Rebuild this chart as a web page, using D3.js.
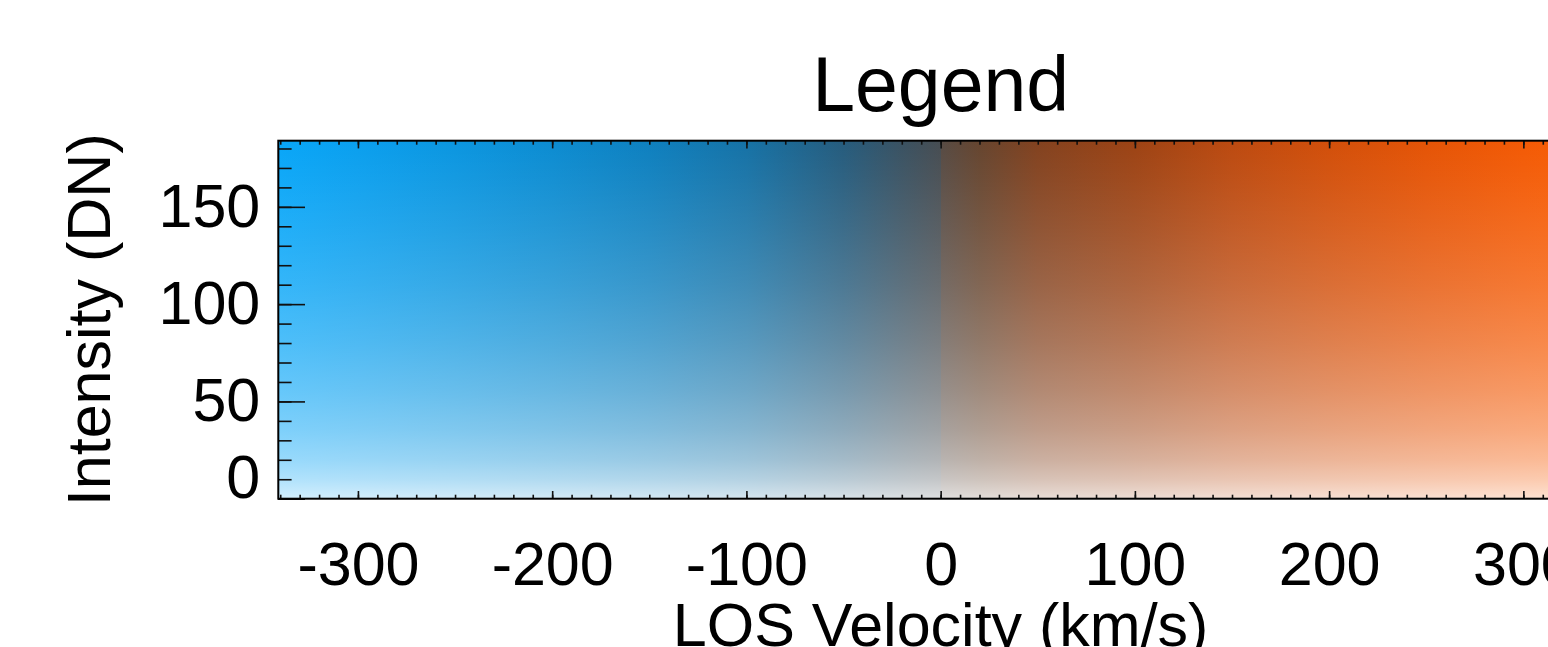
<!DOCTYPE html>
<html>
<head>
<meta charset="utf-8">
<script src="https://cdn.jsdelivr.net/npm/d3@7"></script>
<style>
  html, body { margin: 0; padding: 0; background: #fff; overflow: hidden; }
  svg { display: block; }
  text { font-family: "Liberation Sans", Arial, Helvetica, sans-serif; fill: #000; }
</style>
</head>
<body>
<script>
let velDomain = [-341, 341];
let intDomain = [0, 184];

let xMajor = [-300, -200, -100, 0, 100, 200, 300];
let xMinor = d3.range(-340, 341, 10);
let yMajor = [0, 50, 100, 150];
let yMinor = d3.range(0, 181, 10);

// top-row colour read across the velocity axis (hard edge at 0)
let velStops = [-341, -300, -250, -200, -150, -100, -50, -20, 0, 0, 20, 50, 100, 150, 200, 250, 300, 341];
let topColors = ['#08a6f8', '#0a9fee', '#0b96e0', '#0c8cd1', '#0e80bf', '#1672a6', '#265c7d', '#3a5262',
  '#474d52', '#574b44', '#66452f', '#83421f', '#9d4314', '#bc4a10', '#d24f0a', '#e55406', '#f35a05', '#fb5e03'];

// amount of white washed over the colour at each intensity
let intStops = [0, 2, 5, 10, 20, 35, 55, 80, 110, 140, 165, 184];
let whiteAmount = [0.83, 0.79, 0.75, 0.68, 0.58, 0.48, 0.38, 0.28, 0.18, 0.1, 0.04, 0];

let width = 1548, height = 647;
let margin = { left: 278.3, top: 140.7 };
let plotW = 1324.7, plotH = 358;

let x = d3.scaleLinear().domain(velDomain).range([margin.left, margin.left + plotW]);
let y = d3.scaleLinear().domain(intDomain).range([margin.top + plotH, margin.top]);

let plain = d => String(d);

let svg = d3.select('body').append('svg')
  .attr('width', width)
  .attr('height', height);

let defs = svg.append('defs');

let hGrad = defs.append('linearGradient')
  .attr('id', 'velGrad')
  .attr('gradientUnits', 'userSpaceOnUse')
  .attr('x1', x(velDomain[0])).attr('x2', x(velDomain[1]))
  .attr('y1', 0).attr('y2', 0);

hGrad.selectAll('stop')
  .data(velStops)
  .enter().append('stop')
  .attr('offset', d => (x(d) - x(velDomain[0])) / plotW)
  .attr('stop-color', (d, i) => topColors[i]);

let vGrad = defs.append('linearGradient')
  .attr('id', 'intGrad')
  .attr('gradientUnits', 'userSpaceOnUse')
  .attr('x1', 0).attr('x2', 0)
  .attr('y1', y(intDomain[0])).attr('y2', y(intDomain[1]));

vGrad.selectAll('stop')
  .data(intStops)
  .enter().append('stop')
  .attr('offset', d => (y(intDomain[0]) - y(d)) / plotH)
  .attr('stop-color', '#fff')
  .attr('stop-opacity', (d, i) => whiteAmount[i]);

svg.append('rect')
  .attr('x', x(velDomain[0])).attr('y', y(intDomain[1]))
  .attr('width', plotW).attr('height', plotH)
  .attr('fill', 'url(#velGrad)');

svg.append('rect')
  .attr('x', x(velDomain[0])).attr('y', y(intDomain[1]))
  .attr('width', plotW).attr('height', plotH)
  .attr('fill', 'url(#intGrad)');

function styleAxis(g) {
  g.select('.domain').remove();
  g.selectAll('.tick line').attr('stroke', '#111').attr('stroke-width', 1.6);
  g.selectAll('.tick text').attr('font-size', 61).attr('fill', '#000');
}

// bottom axis
svg.append('g')
  .attr('transform', `translate(0,${y(intDomain[0])})`)
  .call(d3.axisBottom(x).tickValues(xMinor).tickSize(-4).tickFormat(''))
  .call(styleAxis);

svg.append('g')
  .attr('transform', `translate(0,${y(intDomain[0])})`)
  .call(d3.axisBottom(x).tickValues(xMajor).tickSize(-7.7).tickPadding(43).tickFormat(plain))
  .call(styleAxis);

// top axis
svg.append('g')
  .attr('transform', `translate(0,${y(intDomain[1])})`)
  .call(d3.axisTop(x).tickValues(xMinor).tickSize(-4).tickFormat(''))
  .call(styleAxis);

svg.append('g')
  .attr('transform', `translate(0,${y(intDomain[1])})`)
  .call(d3.axisTop(x).tickValues(xMajor).tickSize(-7.7).tickFormat(''))
  .call(styleAxis);

// left axis
svg.append('g')
  .attr('transform', `translate(${x(velDomain[0])},0)`)
  .call(d3.axisLeft(y).tickValues(yMinor).tickSize(-13.3).tickFormat(''))
  .call(styleAxis);

let yAxis = svg.append('g')
  .attr('transform', `translate(${x(velDomain[0])},0)`)
  .call(d3.axisLeft(y).tickValues(yMajor).tickSize(-26.7).tickPadding(18).tickFormat(plain))
  .call(styleAxis);

yAxis.selectAll('.tick')
  .filter(d => d === 0)
  .select('text')
  .attr('y', -20.5);

// frame
svg.append('rect')
  .attr('x', x(velDomain[0])).attr('y', y(intDomain[1]))
  .attr('width', plotW).attr('height', plotH)
  .attr('fill', 'none')
  .attr('stroke', '#000')
  .attr('stroke-width', 2);

svg.append('text')
  .attr('x', x(0))
  .attr('y', 110.5)
  .attr('text-anchor', 'middle')
  .attr('font-size', 77)
  .text('Legend');

svg.append('text')
  .attr('x', x(0))
  .attr('y', 646)
  .attr('text-anchor', 'middle')
  .attr('font-size', 61)
  .text('LOS Velocity (km/s)');

svg.append('text')
  .attr('transform', `translate(110,${margin.top + plotH / 2}) rotate(-90)`)
  .attr('text-anchor', 'middle')
  .attr('font-size', 61)
  .text('Intensity (DN)');
</script>
</body>
</html>
